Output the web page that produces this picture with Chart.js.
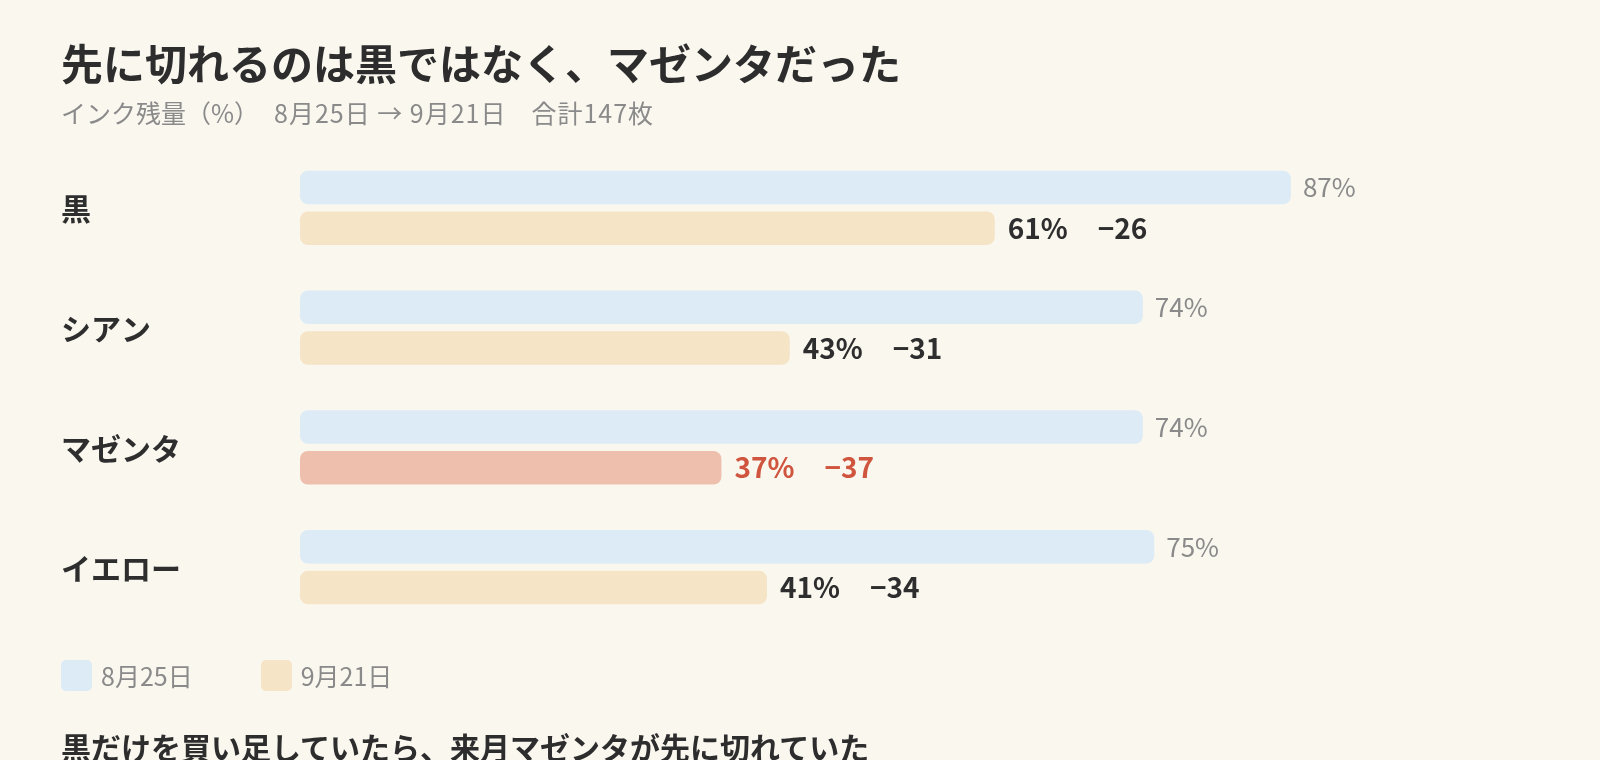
<!DOCTYPE html>
<html lang="ja">
<head>
<meta charset="utf-8">
<script src="https://cdn.jsdelivr.net/npm/chart.js@4.4.1/dist/chart.umd.min.js"></script>
<style>
  html, body { margin: 0; padding: 0; background: #faf7ef; }
  body { width: 1600px; height: 760px; position: relative; overflow: hidden;
    font-family: "Noto Sans CJK JP", "Noto Sans", sans-serif; }
  #wrap { position: absolute; left: 0; top: 0; width: 1600px; height: 760px; }
  .title { position: absolute; left: 61px; top: 41px; font-size: 42px; line-height: 42px;
    font-weight: 700; color: #2d2d2d; white-space: nowrap; }
  .sub { position: absolute; left: 61px; top: 100px; font-size: 25px; line-height: 25px;
    color: #8a8a8a; white-space: nowrap; }
  .sub span { margin-right: 25px; }
  .sub span.unit { margin-right: 15px; }
  .sub span.num { letter-spacing: 1px; }
  .legend { position: absolute; left: 61px; top: 657px; display: flex; align-items: center;
    font-size: 25px; color: #8a8a8a; }
  .legend .item { display: flex; align-items: center; margin-right: 68px; }
  .legend .box { width: 31px; height: 31px; border-radius: 5px; margin-right: 9px; }
  .foot { position: absolute; left: 61px; top: 731px; font-size: 30px; line-height: 30px;
    font-weight: 700; color: #2d2d2d; white-space: nowrap; }
</style>
</head>
<body>
<div id="wrap"><canvas id="ink-chart"></canvas></div>
<div class="title">先に切れるのは黒ではなく、マゼンタだった</div>
<div class="sub"><span class="unit">インク残量（%）</span><span class="num">8月25日 → 9月21日</span><span class="num">合計147枚</span></div>
<div class="legend" id="legend"></div>
<div class="foot">黒だけを買い足していたら、来月マゼンタが先に切れていた</div>
<script>
var colors = ['黒', 'シアン', 'マゼンタ', 'イエロー'];
var dates = ['8月25日', '9月21日'];
var before = [87, 74, 74, 75];
var after = [61, 43, 37, 41];
var highlight = 'マゼンタ';

var blue = '#dcebf6', beige = '#f5e4c6', salmon = '#efbfad', red = '#d0553f';

(function () {
  'use strict';
  var font = '"Noto Sans CJK JP", "Noto Sans", sans-serif';

  var lg = document.getElementById('legend');
  [blue, beige].forEach(function (c, i) {
    var it = document.createElement('div');
    it.className = 'item';
    it.innerHTML = '<div class="box" style="background:' + c + '"></div>' + dates[i];
    lg.appendChild(it);
  });

  var valueLabels = {
    id: 'valueLabels',
    afterDatasetsDraw: function (chart) {
      var ctx = chart.ctx;
      ctx.save();
      ctx.textBaseline = 'middle';
      ctx.textAlign = 'left';
      chart.getDatasetMeta(0).data.forEach(function (bar, i) {
        ctx.font = '400 26px ' + font;
        ctx.fillStyle = '#8a8a8a';
        ctx.fillText(before[i] + '%', bar.x + 12, bar.y);
      });
      chart.getDatasetMeta(1).data.forEach(function (bar, i) {
        var pct = after[i] + '%';
        var diff = '−' + (before[i] - after[i]);
        ctx.font = '700 28px ' + font;
        ctx.fillStyle = colors[i] === highlight ? red : '#2e2e2e';
        var x = bar.x + 13;
        ctx.fillText(pct, x, bar.y);
        ctx.fillText(diff, x + ctx.measureText(pct).width + 30, bar.y);
      });
      ctx.restore();
    }
  };

  var afterColors = colors.map(function (c) { return c === highlight ? salmon : beige; });

  new Chart(document.getElementById('ink-chart').getContext('2d'), {
    type: 'bar',
    data: {
      labels: colors,
      datasets: [
        { label: dates[0], data: before, backgroundColor: blue,
          borderRadius: 8, borderSkipped: !1 },
        { label: dates[1], data: after, backgroundColor: afterColors,
          borderRadius: 8, borderSkipped: !1 }
      ]
    },
    options: {
      indexAxis: 'y',
      responsive: !0,
      maintainAspectRatio: !1,
      animation: !1,
      categoryPercentage: 0.68,
      barPercentage: 0.826,
      layout: { padding: { left: 61, right: 161, top: 148, bottom: 133 } },
      plugins: { legend: { display: !1 }, tooltip: { enabled: !1 } },
      scales: {
        x: { display: !1, min: 0, max: 100 },
        y: {
          grid: { display: !1 },
          border: { display: !1 },
          afterFit: function (s) { s.width = 239; },
          ticks: { crossAlign: 'far', padding: 0, labelOffset: 1, color: '#2e2e2e',
            font: { family: font, size: 30, weight: '700' } }
        }
      }
    },
    plugins: [valueLabels]
  });
})();
</script>
</body>
</html>
